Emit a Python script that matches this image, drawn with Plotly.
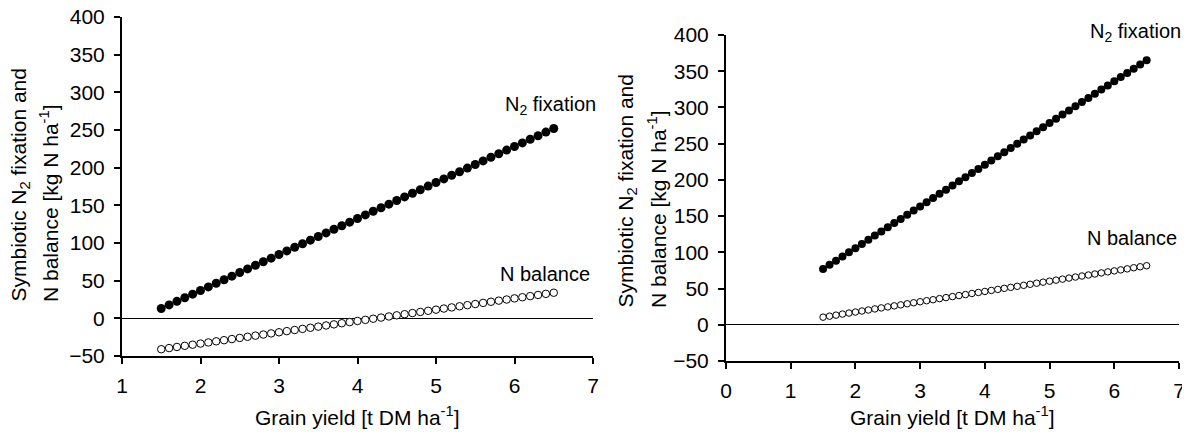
import plotly.graph_objects as go

# ---------------- data ----------------
grain_yield = [1.5, 1.6, 1.7, 1.8, 1.9, 2.0, 2.1, 2.2, 2.3, 2.4, 2.5, 2.6, 2.7, 2.8, 2.9,
               3.0, 3.1, 3.2, 3.3, 3.4, 3.5, 3.6, 3.7, 3.8, 3.9, 4.0, 4.1, 4.2, 4.3, 4.4,
               4.5, 4.6, 4.7, 4.8, 4.9, 5.0, 5.1, 5.2, 5.3, 5.4, 5.5, 5.6, 5.7, 5.8, 5.9,
               6.0, 6.1, 6.2, 6.3, 6.4, 6.5]

left_fixation = [13.0, 17.8, 22.6, 27.3, 32.1, 36.9, 41.7, 46.5, 51.2, 56.0, 60.8, 65.6, 70.4,
                 75.1, 79.9, 84.7, 89.5, 94.3, 99.0, 103.8, 108.6, 113.4, 118.2, 122.9, 127.7,
                 132.5, 137.3, 142.1, 146.8, 151.6, 156.4, 161.2, 166.0, 170.7, 175.5, 180.3,
                 185.1, 189.9, 194.6, 199.4, 204.2, 209.0, 213.8, 218.5, 223.3, 228.1, 232.9,
                 237.7, 242.4, 247.2, 252.0]

left_balance = [-41.0, -39.5, -38.0, -36.5, -35.0, -33.5, -32.0, -30.5, -29.0, -27.5, -26.0,
                -24.5, -23.0, -21.5, -20.0, -18.5, -17.0, -15.5, -14.0, -12.5, -11.0, -9.5,
                -8.0, -6.5, -5.0, -3.5, -2.0, -0.5, 1.0, 2.5, 4.0, 5.5, 7.0, 8.5, 10.0, 11.5,
                13.0, 14.5, 16.0, 17.5, 19.0, 20.5, 22.0, 23.5, 25.0, 26.5, 28.0, 29.5, 31.0,
                32.5, 34.0]

right_fixation = [77.0, 82.8, 88.5, 94.3, 100.0, 105.8, 111.6, 117.3, 123.1, 128.8, 134.6,
                  140.4, 146.1, 151.9, 157.6, 163.4, 169.2, 174.9, 180.7, 186.4, 192.2, 198.0,
                  203.7, 209.5, 215.2, 221.0, 226.8, 232.5, 238.3, 244.0, 249.8, 255.6, 261.3,
                  267.1, 272.8, 278.6, 284.4, 290.1, 295.9, 301.6, 307.4, 313.2, 318.9, 324.7,
                  330.4, 336.2, 342.0, 347.7, 353.5, 359.2, 365.0]

right_balance = [10.5, 11.9, 13.3, 14.8, 16.2, 17.6, 19.0, 20.4, 21.9, 23.3, 24.7, 26.1, 27.5,
                 29.0, 30.4, 31.8, 33.2, 34.6, 36.1, 37.5, 38.9, 40.3, 41.7, 43.2, 44.6, 46.0,
                 47.4, 48.8, 50.3, 51.7, 53.1, 54.5, 55.9, 57.4, 58.8, 60.2, 61.6, 63.0, 64.5,
                 65.9, 67.3, 68.7, 70.1, 71.6, 73.0, 74.4, 75.8, 77.2, 78.7, 80.1, 81.5]

y_ticks = [-50, 0, 50, 100, 150, 200, 250, 300, 350, 400]
label_fix = "N<sub>2</sub> fixation"
label_bal = "N balance"
ytitle_1 = "Symbiotic N<sub>2</sub> fixation and"
ytitle_2 = "N balance [kg N ha<sup>-1</sup>]"
xtitle = "Grain yield [t DM ha<sup>-1</sup>]"

# ---------------- layout helpers ----------------
# the page body has an 8px margin, so the figure starts at (8, 8) in the window
OFF = 8
W, H = 1190 - OFF, 434 - OFF
FONT = "Liberation Sans, Arial, sans-serif"
FS = 21
TFS = 21
LFS = 20


def px(x):
    return (x - OFF) / W


def py(y):
    return 1 - (y - OFF) / H


fig = go.Figure()

# left panel
fig.add_trace(go.Scatter(x=grain_yield, y=left_fixation, mode="markers", xaxis="x", yaxis="y",
                         marker=dict(size=9, color="black", line=dict(width=0)),
                         showlegend=False, cliponaxis=False))
fig.add_trace(go.Scatter(x=grain_yield, y=left_balance, mode="markers", xaxis="x", yaxis="y",
                         marker=dict(size=7.5, color="white", line=dict(width=1, color="black")),
                         showlegend=False, cliponaxis=False))
# right panel
fig.add_trace(go.Scatter(x=grain_yield, y=right_fixation, mode="markers", xaxis="x2", yaxis="y2",
                         marker=dict(size=8, color="black", line=dict(width=0)),
                         showlegend=False, cliponaxis=False))
fig.add_trace(go.Scatter(x=grain_yield, y=right_balance, mode="markers", xaxis="x2", yaxis="y2",
                         marker=dict(size=6.5, color="white", line=dict(width=1, color="black")),
                         showlegend=False, cliponaxis=False))

axis_common = dict(showline=True, linecolor="black", linewidth=2, ticks="outside",
                   ticklen=6, tickwidth=2, tickcolor="black", showgrid=False,
                   automargin=False, ticklabeloverflow="allow",
                   tickfont=dict(family=FONT, size=TFS, color="black"), fixedrange=True)

fig.update_layout(
    width=W, height=H,
    margin=dict(l=0, r=0, t=0, b=0, pad=0),
    paper_bgcolor="white", plot_bgcolor="white",
    font=dict(family=FONT, size=FS, color="black"),
    xaxis=dict(domain=[px(122), px(593)], range=[1, 7], dtick=1, tick0=0, zeroline=False,
               anchor="y", ticklabelstandoff=4, **axis_common),
    yaxis=dict(domain=[py(356), py(17)], range=[-50, 400], tickvals=y_ticks,
               zeroline=True, zerolinecolor="black", zerolinewidth=1,
               anchor="x", ticklabelstandoff=5, **axis_common),
    xaxis2=dict(domain=[px(726), px(1179)], range=[0, 7], dtick=1, tick0=0, zeroline=False,
                anchor="y2", ticklabelstandoff=4, **axis_common),
    yaxis2=dict(domain=[py(361), py(35)], range=[-50, 400], tickvals=y_ticks,
                zeroline=True, zerolinecolor="black", zerolinewidth=1,
                anchor="x2", ticklabelstandoff=5, **axis_common),
)

ann = []
# series labels (pixel positions converted to paper fractions)
for cx, cy, txt in [(550, 105, label_fix), (545, 274, label_bal),
                    (1135, 33, label_fix), (1132, 238, label_bal)]:
    ann.append(dict(x=px(cx), y=py(cy), xref="paper", yref="paper", text=txt,
                    font=dict(family=FONT, size=LFS, color="black"),
                    showarrow=False, xanchor="center", yanchor="middle"))
# x titles
for cx in (357, 952):
    ann.append(dict(x=px(cx), y=py(416), xref="paper", yref="paper", text=xtitle,
                    font=dict(family=FONT, size=FS, color="black"),
                    showarrow=False, xanchor="center", yanchor="middle"))
# y titles (two lines each, start-aligned)
for cx1, cx2, sy in [(19, 49, 304), (626, 657, 310)]:
    ann.append(dict(x=px(cx1), y=py(sy), xref="paper", yref="paper", text=ytitle_1,
                    font=dict(family=FONT, size=FS, color="black"),
                    showarrow=False, textangle=-90, xanchor="center", yanchor="bottom"))
    ann.append(dict(x=px(cx2), y=py(sy), xref="paper", yref="paper", text=ytitle_2,
                    font=dict(family=FONT, size=FS, color="black"),
                    showarrow=False, textangle=-90, xanchor="center", yanchor="bottom"))

fig.update_layout(annotations=ann)

fig.write_html("out.html")
